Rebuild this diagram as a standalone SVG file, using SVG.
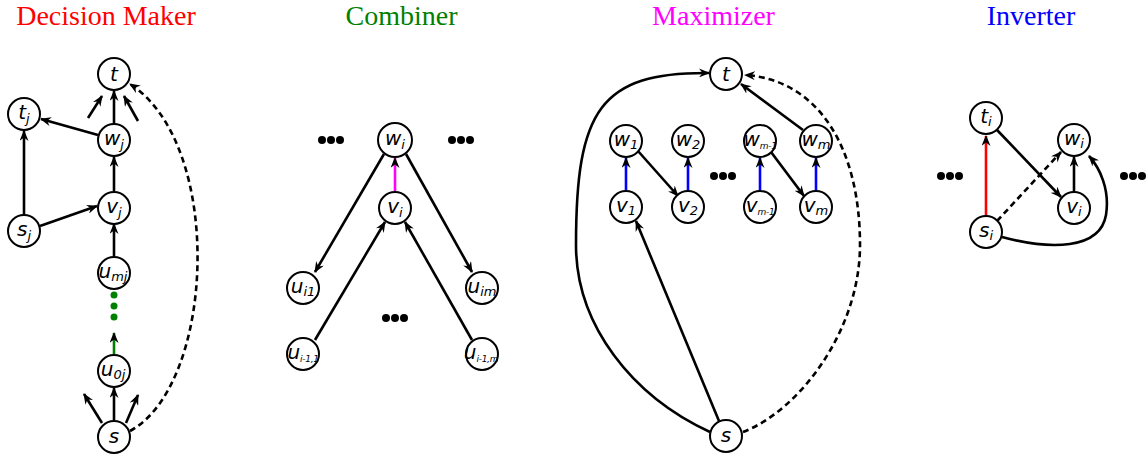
<svg xmlns="http://www.w3.org/2000/svg" width="1148" height="457" viewBox="0 0 1148 457">
  <style>
    .title { font-family: "Liberation Serif", serif; font-size: 28px; text-anchor: middle; }
    .node circle { fill: #fff; stroke: #000; stroke-width: 2; }
    .node text { font-family: "DejaVu Sans", sans-serif; font-style: italic; font-size: 20px; text-anchor: middle; fill: #000; }
    .node .sub { font-size: 13px; }
    .node .tiny { font-size: 9px; letter-spacing: -0.3px; }
    .edge { fill: none; stroke: #000; stroke-width: 2.6; marker-end: url(#arrow); }
    .dash { stroke-dasharray: 6 4; }
    .dots circle { fill: #000; }
    .dots .g { fill: #008000; }
  </style>
  <defs>
    <marker id="arrow" markerUnits="userSpaceOnUse" markerWidth="11" markerHeight="9" refX="10" refY="4.5" orient="auto">
      <path d="M0,0 L11,4.5 L0,9 L3.5,4.5 z" fill="#000"/>
    </marker>
  </defs>

  <rect width="1148" height="457" fill="#fff"/>

  <!-- section titles -->
  <text class="title" x="106" y="25" fill="#ff0000">Decision Maker</text>
  <text class="title" x="401.5" y="25" fill="#008000">Combiner</text>
  <text class="title" x="713.5" y="25" fill="#ff00ff">Maximizer</text>
  <text class="title" x="1031" y="25" fill="#0000ff">Inverter</text>

  <!-- connectors -->
  <g id="connectors">
    <!-- decision maker -->
    <line class="edge" x1="88" y1="118" x2="102" y2="96"/>
    <line class="edge" x1="114" y1="124" x2="114" y2="91"/>
    <line class="edge" x1="138" y1="121" x2="124" y2="96"/>
    <line class="edge" x1="98" y1="135" x2="41" y2="119"/>
    <line class="edge" x1="24" y1="215" x2="24" y2="131"/>
    <line class="edge" x1="40" y1="226" x2="97" y2="206"/>
    <line class="edge" x1="114" y1="191" x2="114" y2="157"/>
    <line class="edge" x1="114" y1="256" x2="114" y2="224"/>
    <line class="edge" x1="114" y1="355" x2="114" y2="333" style="stroke:#008000"/>
    <line class="edge" x1="114" y1="420" x2="114" y2="388"/>
    <line class="edge" x1="102" y1="423" x2="84" y2="394"/>
    <line class="edge" x1="126" y1="423" x2="138" y2="395"/>
    <path class="edge dash" d="M130,431 C215,385 225,145 130,84"/>

    <!-- combiner -->
    <line class="edge" x1="395" y1="191" x2="395" y2="158" style="stroke:#ff00ff"/>
    <line class="edge" x1="384" y1="154" x2="315" y2="272"/>
    <line class="edge" x1="406" y1="154" x2="472" y2="272"/>
    <line class="edge" x1="315" y1="340" x2="385" y2="222"/>
    <line class="edge" x1="472" y1="340" x2="405" y2="222"/>

    <!-- maximizer -->
    <line class="edge" x1="626" y1="191" x2="626" y2="158" style="stroke:#0000ff"/>
    <line class="edge" x1="688" y1="191" x2="688" y2="158" style="stroke:#0000ff"/>
    <line class="edge" x1="760" y1="191" x2="760" y2="158" style="stroke:#0000ff"/>
    <line class="edge" x1="816" y1="191" x2="816" y2="158" style="stroke:#0000ff"/>
    <line class="edge" x1="638" y1="151" x2="678" y2="196"/>
    <line class="edge" x1="771" y1="152" x2="804" y2="196"/>
    <line class="edge" x1="803" y1="130" x2="741" y2="84"/>
    <line class="edge" x1="719" y1="421" x2="636" y2="221"/>
    <path class="edge" d="M710,432 C632,396 576,325 576,245 C576,110 600,72 709,73"/>
    <path class="edge dash" d="M743,432 C800,410 860,330 860,245 C860,150 820,80 745,75"/>

    <!-- inverter -->
    <line class="edge" x1="986" y1="216" x2="986" y2="136" style="stroke:#ff0000"/>
    <line class="edge" x1="997" y1="130" x2="1061" y2="197"/>
    <line class="edge dash" x1="997" y1="221" x2="1061" y2="152"/>
    <line class="edge" x1="1074" y1="192" x2="1074" y2="157"/>
    <path class="edge" d="M1002,237 C1050,250 1100,250 1106,215 C1110,190 1100,168 1089,156"/>
  </g>

  <!-- ellipsis dots -->
  <g class="dots">
    <circle class="g" cx="114" cy="295" r="3.5"/>
    <circle class="g" cx="114" cy="306" r="3.5"/>
    <circle class="g" cx="114" cy="317" r="3.5"/>
    <circle cx="322" cy="140" r="4"/><circle cx="331" cy="140" r="4"/><circle cx="340" cy="140" r="4"/>
    <circle cx="452" cy="140" r="4"/><circle cx="461" cy="140" r="4"/><circle cx="470" cy="140" r="4"/>
    <circle cx="386" cy="318" r="4"/><circle cx="395" cy="318" r="4"/><circle cx="404" cy="318" r="4"/>
    <circle cx="714" cy="176" r="4"/><circle cx="723" cy="176" r="4"/><circle cx="732" cy="176" r="4"/>
    <circle cx="941" cy="176" r="4"/><circle cx="950" cy="176" r="4"/><circle cx="959" cy="176" r="4"/>
    <circle cx="1124" cy="176" r="4"/><circle cx="1133" cy="176" r="4"/><circle cx="1142" cy="176" r="4"/>
  </g>

  <!-- decision maker nodes -->
  <g id="dm-t" class="node"><circle cx="114" cy="74" r="16"/><text x="114" y="81">t</text></g>
  <g id="dm-tj" class="node"><circle cx="24" cy="114" r="16"/><text x="24" y="119">t<tspan class="sub" dy="4">j</tspan></text></g>
  <g id="dm-wj" class="node"><circle cx="114" cy="140" r="16"/><text x="114" y="145">w<tspan class="sub" dy="4">j</tspan></text></g>
  <g id="dm-vj" class="node"><circle cx="114" cy="208" r="16"/><text x="114" y="213">v<tspan class="sub" dy="4">j</tspan></text></g>
  <g id="dm-sj" class="node"><circle cx="24" cy="231" r="16"/><text x="24" y="236">s<tspan class="sub" dy="4">j</tspan></text></g>
  <g id="dm-umj" class="node"><circle cx="114" cy="273" r="16"/><text x="113" y="278">u<tspan class="sub" dy="3">mj</tspan></text></g>
  <g id="dm-u0j" class="node"><circle cx="114" cy="371" r="16"/><text x="113" y="376">u<tspan class="sub" dy="3">0j</tspan></text></g>
  <g id="dm-s" class="node"><circle cx="114" cy="437" r="16"/><text x="114" y="443">s</text></g>

  <!-- combiner nodes -->
  <g id="cb-wi" class="node"><circle cx="395" cy="140" r="17"/><text x="395" y="145">w<tspan class="sub" dy="4">i</tspan></text></g>
  <g id="cb-vi" class="node"><circle cx="395" cy="208" r="16"/><text x="395" y="213">v<tspan class="sub" dy="4">i</tspan></text></g>
  <g id="cb-ui1" class="node"><circle cx="303" cy="288" r="16"/><text x="303" y="293">u<tspan class="sub" dy="3">i1</tspan></text></g>
  <g id="cb-uim" class="node"><circle cx="482" cy="288" r="16"/><text x="482" y="293">u<tspan class="sub" dy="3">im</tspan></text></g>
  <g id="cb-ua" class="node"><circle cx="303" cy="354" r="16"/><text x="303" y="359">u<tspan class="tiny" dy="3">i-1,1</tspan></text></g>
  <g id="cb-ub" class="node"><circle cx="482" cy="354" r="16"/><text x="481" y="359">u<tspan class="tiny" dy="3">i-1,m</tspan></text></g>

  <!-- maximizer nodes -->
  <g id="mx-t" class="node"><circle cx="726" cy="74" r="16"/><text x="726" y="81">t</text></g>
  <g id="mx-w1" class="node"><circle cx="626" cy="141" r="16"/><text x="626" y="146">w<tspan class="sub" dy="3">1</tspan></text></g>
  <g id="mx-w2" class="node"><circle cx="688" cy="141" r="16"/><text x="688" y="146">w<tspan class="sub" dy="3">2</tspan></text></g>
  <g id="mx-wm1" class="node"><circle cx="760" cy="141" r="16"/><text x="760" y="146">w<tspan class="tiny" dy="3">m-1</tspan></text></g>
  <g id="mx-wm" class="node"><circle cx="816" cy="141" r="16"/><text x="816" y="146">w<tspan class="sub" dy="3">m</tspan></text></g>
  <g id="mx-v1" class="node"><circle cx="626" cy="207" r="16"/><text x="626" y="212">v<tspan class="sub" dy="3">1</tspan></text></g>
  <g id="mx-v2" class="node"><circle cx="688" cy="207" r="16"/><text x="688" y="212">v<tspan class="sub" dy="3">2</tspan></text></g>
  <g id="mx-vm1" class="node"><circle cx="760" cy="207" r="16"/><text x="760" y="212">v<tspan class="tiny" dy="3">m-1</tspan></text></g>
  <g id="mx-vm" class="node"><circle cx="816" cy="207" r="16"/><text x="816" y="212">v<tspan class="sub" dy="3">m</tspan></text></g>
  <g id="mx-s" class="node"><circle cx="726" cy="436" r="16"/><text x="726" y="442">s</text></g>

  <!-- inverter nodes -->
  <g id="iv-ti" class="node"><circle cx="986" cy="118" r="16"/><text x="986" y="123">t<tspan class="sub" dy="3">i</tspan></text></g>
  <g id="iv-wi" class="node"><circle cx="1074" cy="140" r="16"/><text x="1074" y="145">w<tspan class="sub" dy="3">i</tspan></text></g>
  <g id="iv-vi" class="node"><circle cx="1074" cy="208" r="16"/><text x="1074" y="213">v<tspan class="sub" dy="3">i</tspan></text></g>
  <g id="iv-si" class="node"><circle cx="986" cy="232" r="16"/><text x="986" y="237">s<tspan class="sub" dy="3">i</tspan></text></g>
</svg>
